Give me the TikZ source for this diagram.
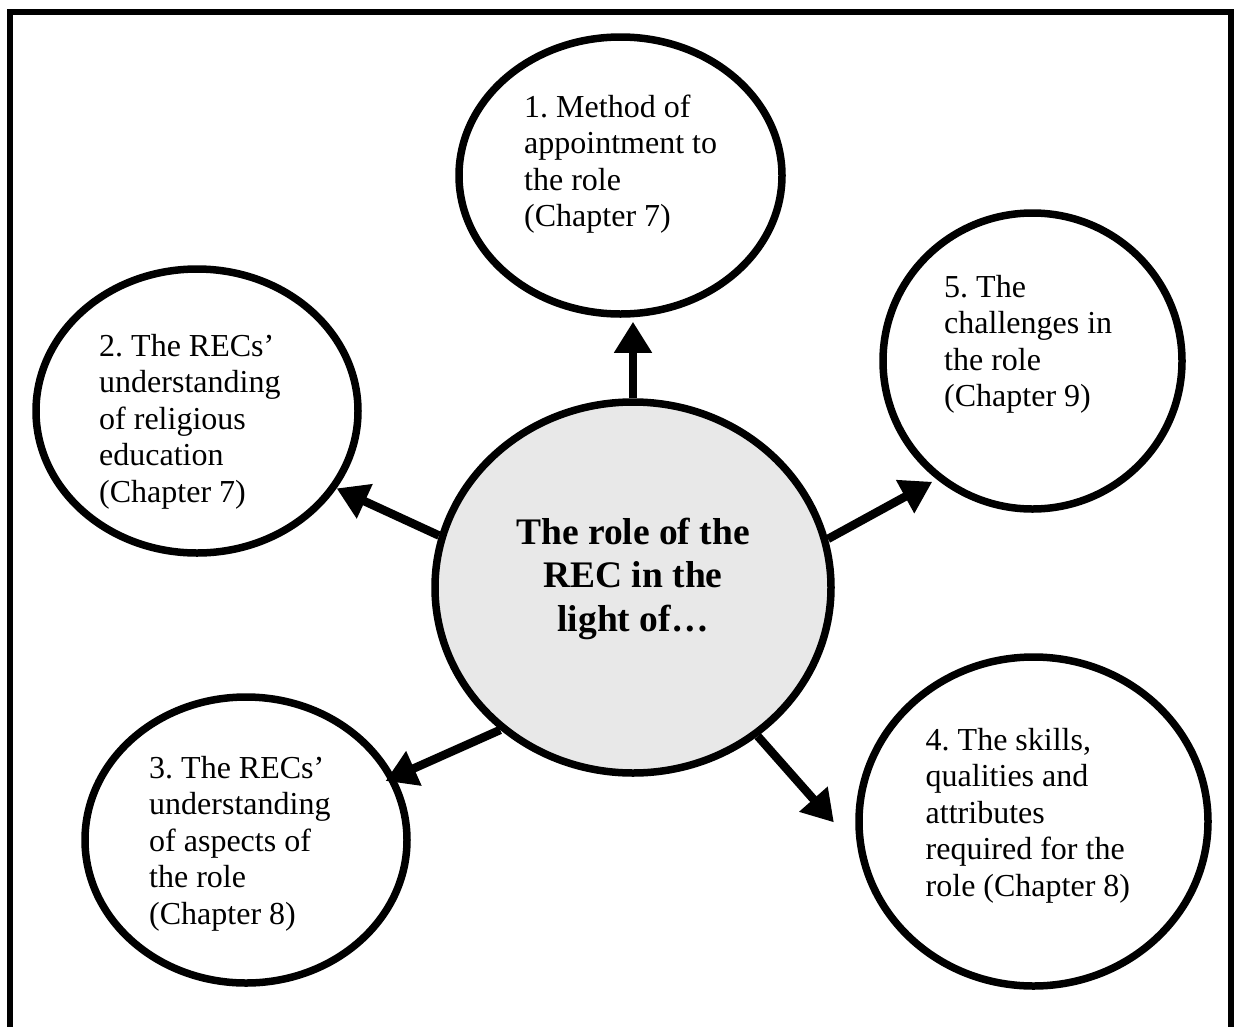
\documentclass[tikz,border=0pt]{standalone}
\usepackage{fontspec}
\setmainfont{Liberation Serif}
\usetikzlibrary{shapes.geometric,arrows.meta}
\definecolor{hubfill}{RGB}{232,232,232}
\frenchspacing
\begin{document}
\begin{tikzpicture}[x=1pt,y=-1pt,
  bubble/.style 2 args={ellipse,draw,line width=7.5pt,inner sep=0pt,
    minimum width=#1,minimum height=#2},
  txt/.style={inner sep=0pt,anchor=north west,align=left,
    font=\fontsize{32}{36.5}\selectfont},
  hubtxt/.style={inner sep=0pt,anchor=north,align=center,
    font=\fontsize{37.5}{43.5}\selectfont\bfseries},
  link/.style={line width=8.5pt,-{Triangle[length=31pt,width=36pt]}}]
\useasboundingbox (0,0) rectangle (1239,1026);

% frame, open at the bottom
\draw[line width=5.5pt] (10,1040) -- (10,12) -- (1231,12) -- (1231,1040);

% central topic and the five themes
\node[bubble={396pt}{371pt},fill=hubfill] (c) at (633,587.5) {};
\node[bubble={323pt}{277pt}] (n1) at (620.5,175.5) {};
\node[bubble={322pt}{284pt}] (n2) at (197,411) {};
\node[bubble={322pt}{286pt}] (n3) at (246,840) {};
\node[bubble={349pt}{329pt}] (n4) at (1033.5,821.5) {};
\node[bubble={299pt}{296pt}] (n5) at (1032.5,361) {};

\node[hubtxt] (tc) at (633,513.5) {\strut The role of the\\REC in the\\light of…};
\node[txt] (t1) at (524,91.45) {\strut 1. Method of\\appointment to\\the role\\(Chapter 7)};
\node[txt] (t2) at (99,330.45) {\strut 2. The RECs’\\understanding\\of religious\\education\\(Chapter 7)};
\node[txt] (t3) at (149,752.45) {\strut 3. The RECs’\\understanding\\of aspects of\\the role\\(Chapter 8)};
\node[txt] (t4) at (925.5,724.45) {\strut 4. The skills,\\qualities and\\attributes\\required for the\\role (Chapter 8)};
\node[txt] (t5) at (944,271.45) {\strut 5. The\\challenges in\\the role\\(Chapter 9)};

% arrows from the centre outwards
\draw[link,shorten >=4pt] (c.north) -- (c.north |- n1.south);
\draw[link] (c.165.8) -- (n2.-29.1);
\draw[link,shorten >=5pt] (c.14.2) -- (n5.231.8);
\draw[link,shorten >=-10pt] (c.227.1) -- (n3.23.3);
\draw[link,shorten >=36pt] (c.-50.7) -- (n4.189.5);
\end{tikzpicture}
\end{document}
